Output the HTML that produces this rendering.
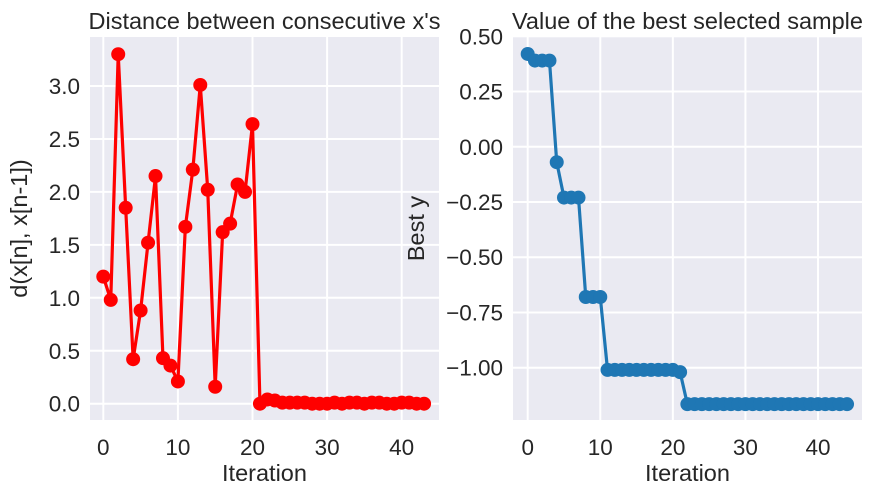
<!DOCTYPE html>
<html><head><meta charset="utf-8"><style>
body{margin:0;background:#fff;}
svg{display:block;font-family:"Liberation Sans",sans-serif;}
</style></head><body>
<svg id="c" width="883" height="497"></svg>
<script>
const leftIter=[...Array(44).keys()];
const leftDist=[1.2,0.98,3.3,1.85,0.42,0.88,1.52,2.15,0.43,0.36,0.21,1.67,2.21,3.01,2.02,0.16,1.62,1.70,2.07,2.0,2.64,0.0,0.04,0.03,0.01,0.01,0.01,0.01,0.0,0.0,0.0,0.01,0.0,0.01,0.01,0.0,0.01,0.01,0.0,0.0,0.01,0.01,0.0,0.0];
const rightIter=[...Array(45).keys()];
const rightBest=[0.42,0.39,0.39,0.39,-0.07,-0.23,-0.23,-0.23,-0.68,-0.68,-0.68,-1.01,-1.01,-1.01,-1.01,-1.01,-1.01,-1.01,-1.01,-1.01,-1.01,-1.02,-1.165,-1.165,-1.165,-1.165,-1.165,-1.165,-1.165,-1.165,-1.165,-1.165,-1.165,-1.165,-1.165,-1.165,-1.165,-1.165,-1.165,-1.165,-1.165,-1.165,-1.165,-1.165,-1.165];
const xTicks=[0,10,20,30,40];
const leftYTicks=[0,0.5,1.0,1.5,2.0,2.5,3.0];
const rightYTicks=[0.5,0.25,0,-0.25,-0.5,-0.75,-1.0];
const NS="http://www.w3.org/2000/svg";
const svg=document.getElementById('c');
function mk(t,a,p){const e=document.createElementNS(NS,t);for(const k in a)e.setAttribute(k,a[k]);(p||svg).appendChild(e);return e;}
function fmtR(v){let s=v.toFixed(2);return s.replace('-','\u2212');}
function panel(o){
  const g=mk('g',{});
  
  
  const bg=mk('rect',{x:o.x0,y:o.y0,width:o.x1-o.x0,height:o.y1-o.y0,fill:'#eaeaf2'},g);
  
  const sx=v=>o.xa+(v-o.xv0)*(o.xb-o.xa)/(o.xv1-o.xv0);
  const sy=v=>o.ya+(v-o.yv0)*(o.yb-o.ya)/(o.yv1-o.yv0);
  xTicks.forEach(t=>{const X=sx(t);
    const l=mk('line',{x1:X,x2:X,y1:o.y0,y2:o.y1,stroke:'#fff','stroke-width':2},g);
    
    const tx=mk('text',{x:X,y:o.y1+35,'text-anchor':'middle','font-size':22.5,fill:'#262626'},g);tx.textContent=t;
    });
  o.yt.forEach(t=>{const Y=sy(t);
    const l=mk('line',{x1:o.x0,x2:o.x1,y1:Y,y2:Y,stroke:'#fff','stroke-width':2},g);
    
    const tx=mk('text',{x:o.x0-10,y:Y+8,'text-anchor':'end','font-size':22.5,fill:'#262626'},g);tx.textContent=o.fmt(t);
    });
  const pts=o.xs.map((x,i)=>sx(x)+','+sy(o.ys[i])).join(' ');
  const pl=mk('polyline',{points:pts,fill:'none',stroke:o.color,'stroke-width':3.2,'stroke-linejoin':'round'},g);
  
  o.xs.forEach((x,i)=>{const c=mk('circle',{cx:sx(x),cy:sy(o.ys[i]),r:7,fill:o.color},g);
    });
  const tt=mk('text',{x:(o.x0+o.x1)/2,y:29,'text-anchor':'middle','font-size':23.5,fill:'#262626'},g);tt.textContent=o.title;
  
  const xl=mk('text',{x:(o.x0+o.x1)/2,y:481,'text-anchor':'middle','font-size':23.5,fill:'#262626'},g);xl.textContent='Iteration';
  
  const yl=mk('text',{x:0,y:0,'text-anchor':'middle','font-size':23.5,fill:'#262626',transform:`translate(${o.ylx},${(o.y0+o.y1)/2}) rotate(-90)`},g);yl.textContent=o.ylabel;
  
}
panel({name:'distance-chart',x0:90,x1:439,y0:37,y1:420,xa:103.3,xb:401.7,xv0:0,xv1:40,ya:403.7,yb:86,yv0:0,yv1:3,yt:leftYTicks,fmt:v=>v.toFixed(1),xs:leftIter,ys:leftDist,color:'#ff0000',title:"Distance between consecutive x's",ylabel:'d(x[n], x[n-1])',ylx:27});
panel({name:'best-value-chart',x0:513,x1:862,y0:37,y1:420,xa:527.7,xb:818,xv0:0,xv1:40,ya:367.7,yb:36.3,yv0:-1,yv1:0.5,yt:rightYTicks,fmt:fmtR,xs:rightIter,ys:rightBest,color:'#1f77b4',title:'Value of the best selected sample',ylabel:'Best y',ylx:424});
</script>
</body></html>
